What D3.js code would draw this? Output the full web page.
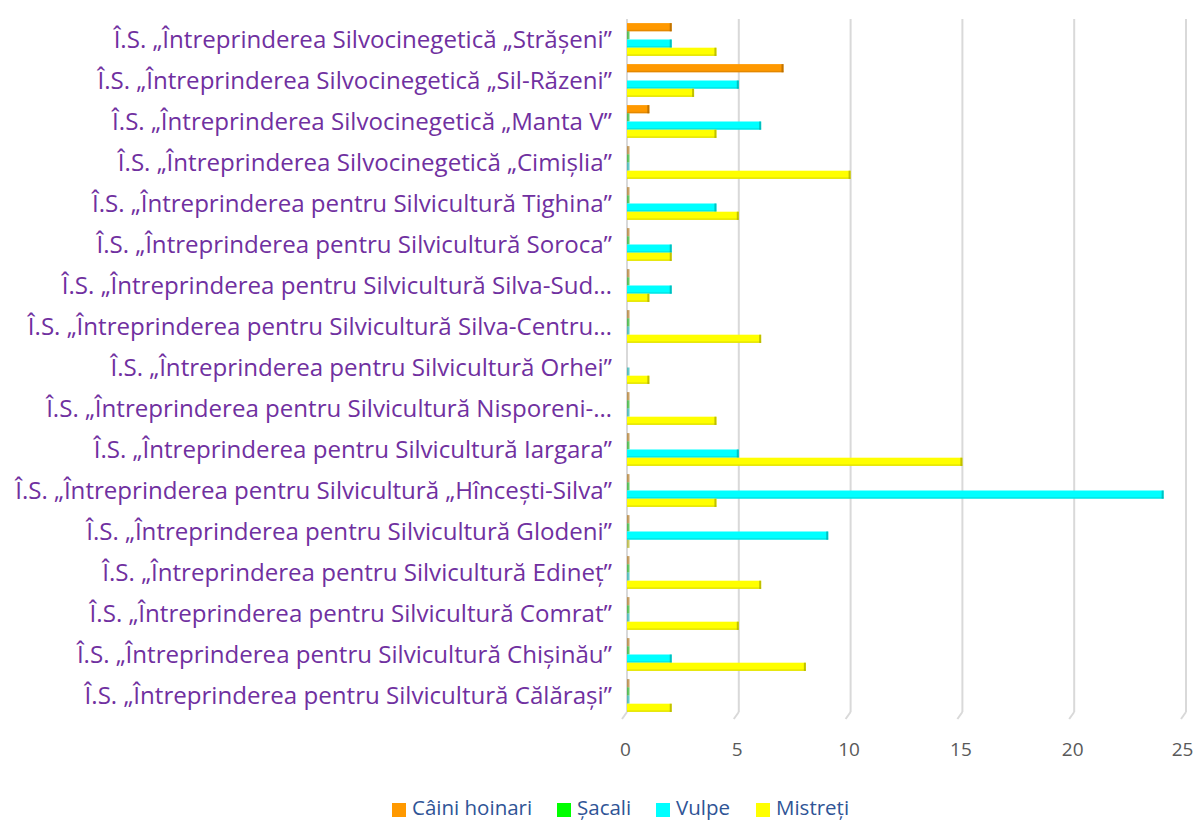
<!DOCTYPE html>
<html>
<head>
<meta charset="utf-8">
<script src="https://cdn.jsdelivr.net/npm/d3@7"></script>
<style>
  body { margin: 0; background: #fff; }
  text { font-family: "Open Sans", sans-serif; }
</style>
</head>
<body>
<svg id="chart" width="1195" height="820"></svg>
<script>
// categorii (de sus in jos)
const categories = [
  "Î.S. „Întreprinderea Silvocinegetică „Strășeni”",
  "Î.S. „Întreprinderea Silvocinegetică „Sil-Răzeni”",
  "Î.S. „Întreprinderea Silvocinegetică „Manta V”",
  "Î.S. „Întreprinderea Silvocinegetică „Cimișlia”",
  "Î.S. „Întreprinderea pentru Silvicultură Tighina”",
  "Î.S. „Întreprinderea pentru Silvicultură Soroca”",
  "Î.S. „Întreprinderea pentru Silvicultură Silva-Sud…",
  "Î.S. „Întreprinderea pentru Silvicultură Silva-Centru…",
  "Î.S. „Întreprinderea pentru Silvicultură Orhei”",
  "Î.S. „Întreprinderea pentru Silvicultură Nisporeni-…",
  "Î.S. „Întreprinderea pentru Silvicultură Iargara”",
  "Î.S. „Întreprinderea pentru Silvicultură „Hîncești-Silva”",
  "Î.S. „Întreprinderea pentru Silvicultură Glodeni”",
  "Î.S. „Întreprinderea pentru Silvicultură Edineț”",
  "Î.S. „Întreprinderea pentru Silvicultură Comrat”",
  "Î.S. „Întreprinderea pentru Silvicultură Chișinău”",
  "Î.S. „Întreprinderea pentru Silvicultură Călărași”"
];

const seriesNames = ["Câini hoinari", "Șacali", "Vulpe", "Mistreți"];
const seriesColors = ["#ff9900", "#00ff00", "#00ffff", "#ffff00"];

// valori (null = lipsa)
const caini    = [2, 7, 1, 0, 0, 0, 0, 0, null, 0, 0, 0, 0, 0, 0, 0, 0];
const sacali   = [0, null, 0, 0, 0, 0, 0, 0, null, 0, 0, 0, 0, 0, 0, 0, 0];
const vulpe    = [2, 5, 6, 0, 4, 2, 2, 0, 0, 0, 5, 24, 9, 0, 0, 2, 0];
const mistreti = [4, 3, 4, 10, 5, 2, 1, 6, 1, 4, 15, 4, 0, 6, 5, 8, 2];

const xTicks = [0, 5, 10, 15, 20, 25];

const allSeries = [caini, sacali, vulpe, mistreti];

const svg = d3.select("#chart");

const x = d3.scaleLinear().domain([0, 25]).range([627, 1186]);
const y = d3.scaleBand().domain(categories).range([19, 716]).paddingInner(0.2).paddingOuter(0.1);
const ySub = d3.scaleBand().domain(d3.range(4)).range([0, y.bandwidth()]);

const plotTop = 19, plotBottom = 712;

// gridlines verticale + podeaua 3D
const grid = svg.append("g");
xTicks.forEach(t => {
  grid.append("line")
    .attr("x1", x(t)).attr("x2", x(t))
    .attr("y1", plotTop).attr("y2", plotBottom)
    .attr("stroke", "#d9d9d9").attr("stroke-width", 2);
  grid.append("line")
    .attr("x1", x(t)).attr("x2", x(t) - 5)
    .attr("y1", plotBottom).attr("y2", plotBottom + 7)
    .attr("stroke", "#d9d9d9").attr("stroke-width", 2);
});

// axa x
const xAxis = d3.axisBottom(x).tickValues(xTicks).tickSize(0).tickPadding(0);
const gx = svg.append("g").attr("transform", "translate(-2,756)").call(xAxis);
gx.select(".domain").remove();
gx.selectAll("text")
  .attr("dy", 0)
  .attr("fill", "#595959")
  .style("font-family", "'Open Sans', sans-serif")
  .style("font-size", "19px");
// ultima eticheta putin spre stanga ca sa nu iasa din cadru
gx.selectAll(".tick").filter(d => d === 25).select("text").attr("x", -2);

// etichete categorii
const labels = svg.append("g").selectAll("text")
  .data(categories)
  .join("text")
  .attr("x", 612)
  .attr("y", d => y(d) + y.bandwidth() / 2 + 2)
  .attr("text-anchor", "end")
  .attr("dominant-baseline", "middle")
  .attr("fill", "#7030a0")
  .style("font-size", "19px")
  .text(d => d);

// potrivim marimea fontului ca eticheta cea mai lata sa ocupe ~597px
let maxW = 0;
labels.each(function () { maxW = Math.max(maxW, this.getComputedTextLength()); });
const fs = 19 * 597 / maxW;
labels.style("font-size", fs + "px");

// bare
const darker = c => d3.color(c).darker(1.2).formatHex();
allSeries.forEach((vals, si) => {
  const g = svg.append("g");
  vals.forEach((v, ci) => {
    if (v === null) return;
    const yy = y(categories[ci]) + ySub(si);
    const h = ySub.bandwidth();
    const w = Math.max(x(v) - x(0), 0);
    if (w > 0) {
      g.append("rect")
        .attr("x", x(0)).attr("y", yy)
        .attr("width", w).attr("height", h)
        .attr("fill", seriesColors[si]);
      g.append("rect")
        .attr("x", x(0)).attr("y", yy + h - 1.5)
        .attr("width", w).attr("height", 1.5)
        .attr("fill", darker(seriesColors[si])).attr("opacity", 0.3);
      g.append("rect")
        .attr("x", x(v) - 2).attr("y", yy)
        .attr("width", 2).attr("height", h)
        .attr("fill", darker(seriesColors[si])).attr("opacity", 0.7);
    } else {
      g.append("rect")
        .attr("x", x(0)).attr("y", yy)
        .attr("width", 2.5).attr("height", h)
        .attr("fill", darker(seriesColors[si])).attr("opacity", 0.6);
    }
  });
});

// legenda
const legendX = [392, 557, 656, 756];
const legend = svg.append("g");
seriesNames.forEach((name, i) => {
  legend.append("rect")
    .attr("x", legendX[i]).attr("y", 803)
    .attr("width", 14).attr("height", 14)
    .attr("fill", seriesColors[i]);
  legend.append("text")
    .attr("x", legendX[i] + 20).attr("y", 815)
    .attr("fill", "#2f5496")
    .style("font-size", "20.5px")
    .text(name);
});
</script>
</body>
</html>
